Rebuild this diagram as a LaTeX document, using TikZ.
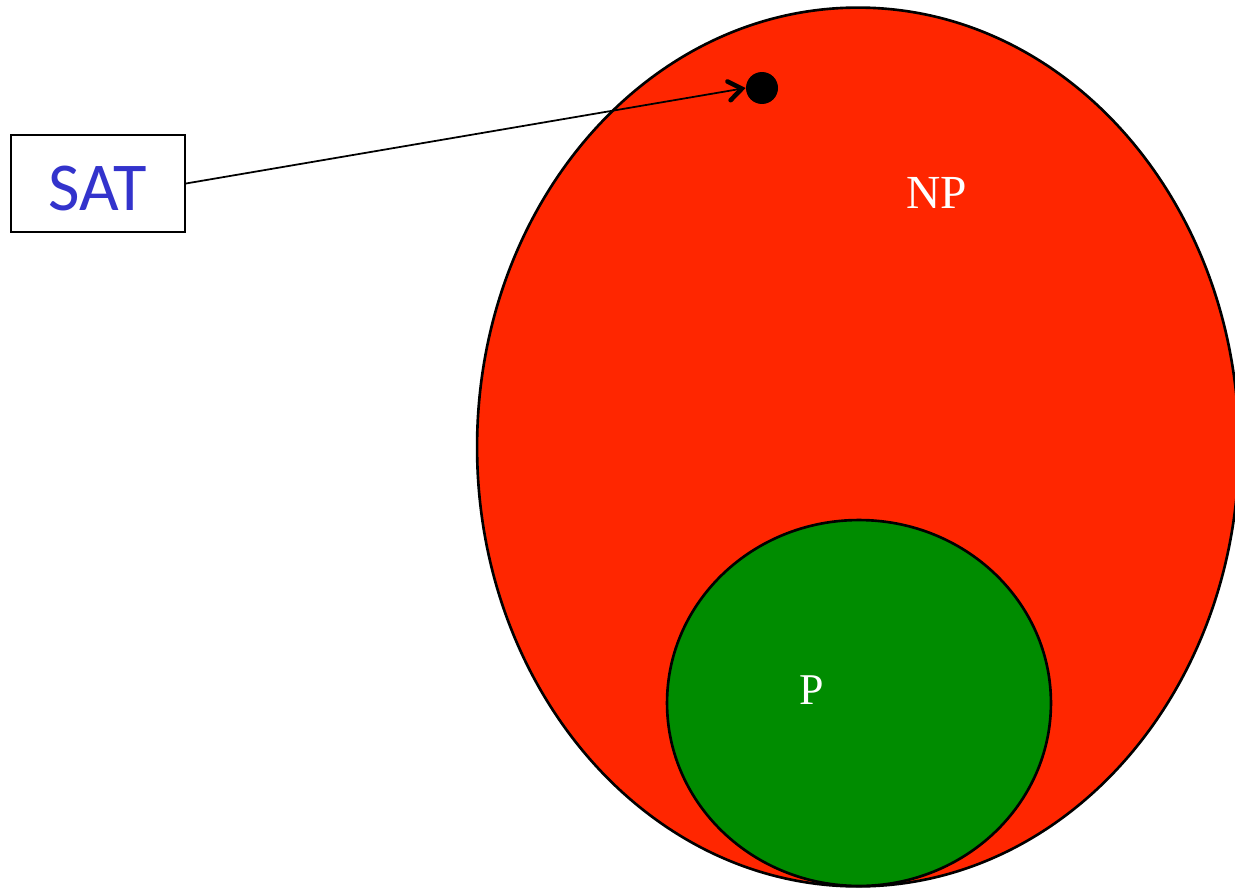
\documentclass[tikz,border=0pt]{standalone}
\usepackage{fontspec}
\setmainfont{Liberation Serif}
\newfontfamily\calfont{Carlito}
\definecolor{NPred}{RGB}{255, 38, 0}
\definecolor{Pgreen}{RGB}{0, 140, 0}
\definecolor{SATblue}{RGB}{51, 51, 204}
\usetikzlibrary{arrows.meta, positioning, shapes}

\begin{document}
\begin{tikzpicture}[x=0.02cm, y=-0.02cm,
  set/.style={draw=black, line width=1.5pt},
  lab/.style={text=white, font=\fontsize{27}{30}\selectfont},
  satbox/.style={draw=black, line width=1.1pt, minimum width=3.48cm, minimum height=1.94cm, inner sep=0pt, text height=1.1cm, text depth=0pt, text=SATblue, font=\calfont\fontsize{39}{42}\selectfont},
  ar/.style={-{Straight Barb[length=2.6mm, width=3.8mm, line width=2.6pt, line cap=round]}, line width=1pt}]
\useasboundingbox (0,0) rectangle (1235,889);
\clip (0,0) rectangle (1235,889);
\fill[white] (0,0) rectangle (1235,889);
\node[set, fill=NPred, ellipse, minimum width=15.24cm, minimum height=17.58cm, inner sep=0pt] (np) at (858,447) {};
\node[set, fill=Pgreen, ellipse, minimum width=7.68cm, minimum height=7.32cm, inner sep=0pt] (p) at (859,703) {};
\node[lab] (nplab) at (937,193) {NP};
\node[lab, font=\fontsize{25}{28}\selectfont] (plab) at (812,690) {P};
\node[circle, fill=black, minimum size=0.64cm, inner sep=0pt] (sat) at (762,88) {};
\node[satbox] (box) at (98,183.5) {SAT};
\draw[ar] (box.east) -- (sat.west);
\end{tikzpicture}
\end{document}
